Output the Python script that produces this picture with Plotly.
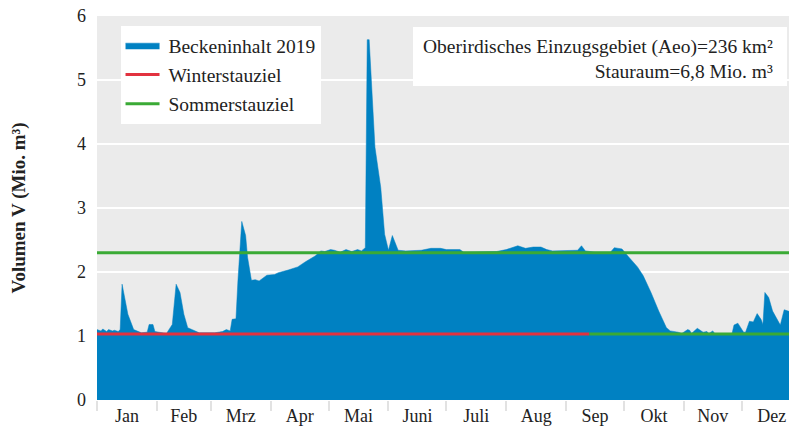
import pandas as pd
import plotly.graph_objects as go

# ---- data ----
day_of_year = [0, 2, 3, 5, 6, 8, 9, 11, 12, 13, 16, 19, 23, 26, 27, 29, 30, 34, 36, 39,
               41, 43, 45, 47, 49, 51, 53, 61, 65, 67, 69, 70, 72, 73, 75, 77, 78, 80, 82, 84,
               86, 88, 92, 94, 99, 104, 108, 113, 116, 118, 121, 123, 126, 129, 132, 135, 137, 139, 140, 141,
               144, 147, 149, 151, 153, 156, 160, 165, 168, 173, 178, 181, 188, 190, 198, 207, 212, 218, 222, 226,
               230, 233, 236, 245, 249, 251, 253, 258, 266, 268, 272, 275, 278, 280, 283, 287, 291, 295, 297, 300,
               301, 303, 306, 307, 308, 311, 312, 314, 316, 317, 319, 320, 329, 330, 332, 335, 336, 338, 340, 342,
               344, 345, 346, 348, 350, 352, 354, 356, 358, 359]
volume = [1.10, 1.08, 1.11, 1.07, 1.10, 1.08, 1.09, 1.07, 1.10, 1.81, 1.34, 1.10, 1.05, 1.06, 1.18, 1.18, 1.07, 1.05, 1.04, 1.18,
          1.81, 1.68, 1.34, 1.13, 1.10, 1.08, 1.05, 1.05, 1.07, 1.10, 1.08, 1.26, 1.27, 1.86, 2.79, 2.57, 2.23, 1.87, 1.88, 1.86,
          1.90, 1.95, 1.96, 1.99, 2.03, 2.08, 2.16, 2.25, 2.33, 2.32, 2.35, 2.34, 2.31, 2.35, 2.32, 2.35, 2.33, 2.38, 5.63, 5.63,
          3.95, 3.32, 2.59, 2.34, 2.57, 2.34, 2.33, 2.34, 2.34, 2.37, 2.37, 2.35, 2.35, 2.31, 2.31, 2.32, 2.35, 2.41, 2.37, 2.39,
          2.39, 2.35, 2.33, 2.33, 2.34, 2.41, 2.33, 2.31, 2.31, 2.38, 2.36, 2.25, 2.15, 2.08, 1.94, 1.68, 1.39, 1.13, 1.08, 1.07,
          1.06, 1.04, 1.10, 1.09, 1.04, 1.12, 1.10, 1.06, 1.07, 1.04, 1.08, 1.04, 1.04, 1.17, 1.20, 1.06, 1.06, 1.23, 1.22, 1.35,
          1.26, 1.18, 1.68, 1.60, 1.39, 1.29, 1.17, 1.41, 1.39, 1.38]

winter_target = 1.03
summer_target = 2.30
winter_end_day = 255          # Winterstauziel valid until mid-September
months = ["Jan", "Feb", "Mrz", "Apr", "Mai", "Juni", "Juli", "Aug", "Sep", "Okt", "Nov", "Dez"]
y_ticks = [0, 1, 2, 3, 4, 5, 6]
info_text = "Oberirdisches Einzugsgebiet (Aeo)=236 km²<br>Stauraum=6,8 Mio. m³"

# ---- derived ----
year_start = pd.Timestamp("2019-01-01")
dates = [year_start + pd.Timedelta(days=d) for d in day_of_year]
x_end = year_start + pd.Timedelta(days=358.5)
winter_end = year_start + pd.Timedelta(days=winter_end_day)
month_starts = pd.date_range("2019-01-01", "2020-01-01", freq="MS")
month_mids = [month_starts[i] + (month_starts[i + 1] - month_starts[i]) / 2 for i in range(12)]

BLUE = "#0081c2"
RED = "#e2323f"
GREEN = "#3aaa35"
FONT = "Liberation Serif"
TXT = "#222222"
PAD = "\u2009"

fig = go.Figure()
fig.add_trace(go.Scatter(
    x=dates, y=volume, mode="lines", fill="tozeroy", fillcolor=BLUE,
    line=dict(color=BLUE, width=0.5), name=PAD + "Beckeninhalt 2019", legendgroup="a"))
fig.add_trace(go.Scatter(
    x=[year_start, winter_end], y=[winter_target, winter_target], mode="lines",
    line=dict(color=RED, width=3), name=PAD + "Winterstauziel", legendgroup="b"))
fig.add_trace(go.Scatter(
    x=[year_start, x_end], y=[summer_target, summer_target], mode="lines",
    line=dict(color=GREEN, width=3), name=PAD + "Sommerstauziel", legendgroup="c"))
fig.add_trace(go.Scatter(
    x=[winter_end, x_end], y=[winter_target, winter_target], mode="lines",
    line=dict(color=GREEN, width=3), showlegend=False, legendgroup="c"))

fig.update_layout(
    width=789, height=427,
    margin=dict(l=97, r=0, t=16, b=27),
    paper_bgcolor="white", plot_bgcolor="#ebebeb",
    font=dict(family=FONT, size=18, color=TXT),
    showlegend=True,
    legend=dict(x=0.034, y=0.974, xanchor="left", yanchor="top",
                bgcolor="white", borderwidth=0, font=dict(size=19.5, family=FONT, color=TXT),
                tracegroupgap=1, itemwidth=34),
    xaxis=dict(
        type="date", range=[year_start, x_end],
        tickmode="array", tickvals=month_mids, ticktext=months,
        ticks="", showgrid=False, zeroline=False, showline=False,
        tickfont=dict(size=18, family=FONT, color=TXT), ticklabelstandoff=3,
        minor=dict(tickmode="linear", tick0="2019-01-01", dtick="M1",
                   ticks="outside", ticklen=10, tickwidth=2, tickcolor="#e2e2e2",
                   showgrid=False),
    ),
    yaxis=dict(
        range=[0, 6], tickvals=y_ticks, ticks="", showgrid=True,
        gridcolor="white", gridwidth=2, zeroline=False, showline=False,
        tickfont=dict(size=18, family=FONT, color=TXT), ticklabelstandoff=10,
        title=dict(text="<b>Volumen V (Mio. m³)</b>", font=dict(size=19, family=FONT, color=TXT),
                   standoff=46),
    ),
    shapes=[dict(type="rect", xref="paper", yref="paper",
                 x0=0.4566, x1=0.9971, y0=0.8177, y1=0.9714,
                 fillcolor="white", line=dict(width=0), layer="above")],
    annotations=[dict(
        xref="paper", yref="paper", x=0.9798, y=0.889, xanchor="right", yanchor="middle",
        text=info_text, align="right", showarrow=False,
        font=dict(size=19.5, family=FONT, color=TXT))],
)

fig.write_html("out.html", config={"displayModeBar": False},
               post_script="document.body.style.margin='0';")
